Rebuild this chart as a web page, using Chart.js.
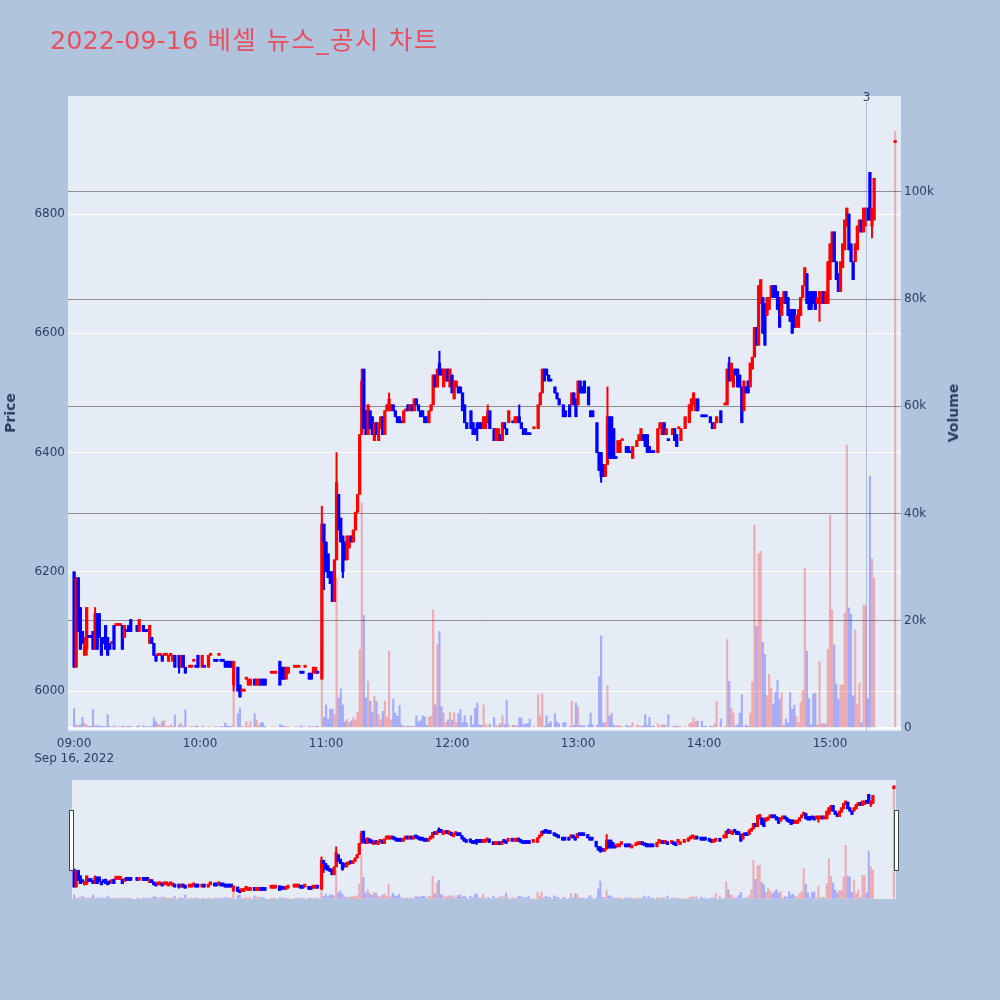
<!DOCTYPE html>
<html>
<head>
<meta charset="utf-8">
<script src="https://cdn.jsdelivr.net/npm/chart.js@4.4.0/dist/chart.umd.min.js"></script>
<style>
html, body { margin: 0; padding: 0; background: #b0c4de; }
#wrap { position: relative; width: 1000px; height: 1000px; overflow: hidden; font-family: "DejaVu Sans", Verdana, sans-serif; }
#title { position: absolute; left: 50px; top: 25px; font-size: 25.5px; line-height: 30px; color: #e8505f; white-space: nowrap;
         font-family: "DejaVu Sans", "Noto Sans CJK KR", sans-serif; }
#title span { letter-spacing: 1.3px; }
.ytitle { position: absolute; font-size: 14px; font-weight: bold; color: #2a3f5f; white-space: nowrap;
          transform: translate(-50%, -50%) rotate(-90deg); }
#main { position: absolute; left: 0; top: 0; }
#slider { position: absolute; left: 60px; top: 775px; }
</style>
</head>
<body>
<div id="wrap">
  <canvas id="main" width="1000" height="770"></canvas>
  <canvas id="slider" width="850" height="130"></canvas>
  <div id="title">2022-09-16<span> 베셀 뉴스_공시 차트</span></div>
  <div class="ytitle" style="left:10px; top:413px;">Price</div>
  <div class="ytitle" style="left:953px; top:413px;">Volume</div>
</div>
<script>
// one entry per minute after 09:00, null = no trade in that minute
const opens = [
  6200,6040,6190,6140,6100,6060,6070,6090,6090,6100,
  6070,6130,6130,6090,6090,6110,6090,6080,6080,6110,
  6110,6110,6110,6110,6090,6100,6110,6120,null,null,
  6110,6100,null,6110,6100,6100,6080,6090,6080,6060,
  6060,6060,6060,6060,6060,6050,6060,6050,6060,null,
  6060,6040,6060,6040,null,6040,6040,6050,6040,6060,
  null,6040,6040,null,6040,6060,null,6050,6050,6060,
  6050,6050,6050,6050,6050,6050,6010,null,6040,6010,
  6000,6000,6020,6010,6010,null,6020,6010,6010,6020,
  6020,6020,null,null,6030,6030,6030,null,6050,6040,
  6040,6020,6030,null,null,6040,6040,6040,6030,6030,
  6040,null,6030,6030,6030,6030,6030,null,6020,6280,
  6250,6230,6200,6200,6150,6220,6330,6290,6260,6250,
  6220,6240,6260,6250,6270,6300,6330,6430,6540,6470,
  6430,6470,6460,6420,6450,6420,6440,6460,6430,6470,
  6470,6470,6480,6470,6460,6460,6450,6450,6470,6480,
  6470,6480,6470,6490,6480,6470,6470,6460,6460,6450,
  6470,6480,6530,6510,6550,6540,6510,6520,6540,6510,
  6530,6490,6510,6510,6510,6500,6480,6450,null,6470,
  6450,6440,6450,6450,6450,6440,6440,6450,6470,null,
  6440,6420,6420,6430,6420,6450,6440,6450,null,6450,
  6450,6450,6460,6450,6440,6440,6430,6430,null,6440,
  null,6440,6480,6500,6540,6540,6530,6520,null,6510,
  6500,6490,null,6480,6470,null,6480,6480,6500,6490,
  6480,6520,6510,6520,null,6510,6470,6470,null,6450,
  6400,6400,6380,6360,6380,6460,6460,6440,6390,6400,
  6400,6420,null,6410,6410,6400,6390,null,6410,6420,
  6420,6430,6430,6430,6410,6400,6400,null,6400,6440,
  6430,6450,6430,6420,null,6430,6440,6430,6440,6420,
  null,6440,null,6450,6470,6480,6470,6490,null,6460,
  6460,6460,null,6460,6450,6440,6450,null,6470,null,
  6480,6480,6550,6520,6510,6540,6540,6530,6510,6470,
  6510,6520,6510,6540,6560,6610,6580,6650,6660,6650,
  6630,6640,6660,6680,6680,6670,6660,6630,6650,6670,
  6660,6640,6640,6640,6610,6610,6630,6660,6680,6700,
  6670,6670,6670,6670,6650,6650,6650,6670,6650,6650,
  6690,6720,6770,6720,6700,6670,6710,6740,6780,6800,
  6750,6720,6720,6740,6770,6790,6770,6780,6810,6870,
  6780,6790,null,null,null,null,null,null,null,null,
  null,6920
];
const highs = [
  6200,6190,6190,6140,6100,6090,6140,6090,6090,6100,
  6140,6130,6130,6090,6090,6110,6090,6080,6080,6110,
  6110,6110,6110,6110,6110,6100,6110,6120,null,null,
  6110,6120,null,6110,6100,6100,6110,6090,6080,6060,
  6060,6060,6060,6060,6060,6060,6060,6060,6060,null,
  6060,6060,6060,6040,null,6040,6040,6050,6040,6060,
  null,6060,6040,null,6060,6060,null,6050,6050,6060,
  6050,6050,6050,6050,6050,6050,6050,null,6040,6010,
  6000,6000,6020,6020,6020,null,6020,6020,6020,6020,
  6020,6020,null,null,6030,6030,6030,null,6050,6040,
  6040,6040,6040,null,null,6040,6040,6040,6030,6030,
  6040,null,6030,6030,6040,6040,6030,null,6310,6280,
  6250,6230,6200,6200,6220,6400,6330,6290,6260,6250,
  6260,6260,6260,6270,6300,6330,6430,6540,6540,6470,
  6480,6470,6460,6450,6450,6450,6460,6460,6470,6480,
  6500,6480,6480,6470,6460,6460,6450,6470,6470,6480,
  6480,6480,6490,6490,6480,6470,6470,6460,6460,6470,
  6480,6530,6530,6540,6570,6540,6540,6540,6540,6540,
  6530,6520,6520,6510,6510,6500,6480,6450,null,6470,
  6450,6440,6450,6450,6450,6460,6460,6480,6470,null,
  6440,6440,6440,6430,6450,6450,6440,6470,null,6450,
  6460,6460,6480,6450,6440,6440,6430,6430,null,6440,
  null,6480,6500,6540,6540,6540,6530,6520,null,6510,
  6500,6490,null,6480,6470,null,6480,6500,6500,6490,
  6520,6520,6510,6520,null,6510,6470,6470,null,6450,
  6400,6400,6380,6380,6510,6460,6460,6440,6390,6420,
  6420,6420,null,6410,6410,6400,6410,null,6420,6430,
  6440,6430,6430,6430,6410,6400,6400,null,6440,6450,
  6450,6450,6440,6420,null,6440,6440,6430,6440,6440,
  null,6460,null,6480,6490,6500,6490,6490,null,6460,
  6460,6460,null,6460,6450,6450,6460,null,6470,null,
  6480,6540,6560,6550,6540,6540,6540,6530,6510,6520,
  6510,6520,6550,6560,6610,6610,6680,6690,6660,6650,
  6660,6660,6680,6680,6680,6670,6660,6660,6670,6670,
  6660,6640,6640,6640,6630,6640,6660,6680,6710,6700,
  6670,6670,6670,6670,6660,6670,6670,6670,6670,6720,
  6750,6770,6770,6720,6700,6720,6750,6790,6810,6800,
  6750,6720,6750,6780,6790,6790,6810,6810,6810,6870,
  6810,6860,null,null,null,null,null,null,null,null,
  null,6920
];
const lows = [
  6040,6040,6100,6070,6080,6060,6060,6090,6090,6070,
  6070,6070,6090,6060,6080,6070,6060,6070,6080,6070,
  6110,6110,6110,6070,6090,6100,6100,6100,null,null,
  6100,6100,null,6100,6100,6100,6080,6080,6060,6050,
  6060,6060,6050,6060,6060,6050,6060,6050,6040,null,
  6030,6040,6040,6030,null,6040,6040,6050,6040,6040,
  null,6040,6040,null,6040,6060,null,6050,6050,6060,
  6050,6050,6040,6040,6040,6040,6000,null,6000,5990,
  6000,6000,6020,6010,6010,null,6010,6010,6010,6010,
  6010,6010,null,null,6030,6030,6030,null,6010,6020,
  6020,6020,6030,null,null,6040,6040,6040,6030,6030,
  6040,null,6020,6020,6030,6030,6030,null,6020,6170,
  6200,6190,6180,6150,6150,6220,6270,6250,6190,6220,
  6220,6240,6250,6250,6270,6300,6330,6430,6440,6430,
  6430,6440,6430,6420,6430,6420,6440,6430,6430,6470,
  6470,6470,6470,6460,6450,6450,6450,6450,6470,6470,
  6470,6470,6470,6480,6470,6460,6460,6450,6450,6450,
  6470,6480,6510,6510,6530,6530,6510,6520,6520,6510,
  6500,6490,6510,6500,6500,6470,6450,6440,null,6440,
  6430,6430,6420,6440,6440,6440,6440,6450,6440,null,
  6420,6420,6420,6420,6420,6440,6430,6450,null,6450,
  6450,6450,6450,6440,6430,6430,6430,6430,null,6440,
  null,6440,6480,6500,6520,6530,6520,6520,null,6500,
  6490,6480,null,6460,6460,null,6460,6480,6480,6460,
  6480,6500,6500,6500,null,6480,6460,6460,null,6400,
  6370,6350,6360,6360,6380,6390,6390,6390,6390,6400,
  6400,6420,null,6400,6400,6400,6390,null,6410,6420,
  6420,6420,6410,6400,6400,6400,6400,null,6400,6440,
  6430,6430,6430,6420,null,6430,6420,6410,6440,6420,
  null,6440,null,6450,6470,6480,6470,6470,null,6460,
  6460,6460,null,6450,6440,6440,6450,null,6450,null,
  6480,6480,6520,6520,6510,6530,6510,6510,6450,6470,
  6500,6500,6510,6540,6560,6580,6580,6650,6600,6580,
  6630,6640,6660,6660,6660,6640,6610,6630,6650,6650,
  6630,6620,6600,6610,6610,6610,6630,6660,6680,6650,
  6640,6640,6650,6640,6650,6620,6650,6650,6650,6650,
  6690,6720,6720,6690,6670,6670,6710,6740,6780,6740,
  6720,6690,6720,6740,6770,6770,6770,6780,6790,6790,
  6760,6790,null,null,null,null,null,null,null,null,
  null,6920
];
const closes = [
  6040,6190,6100,6070,6080,6080,6140,6090,6090,6070,
  6130,6070,6090,6060,6080,6070,6060,6070,6080,6070,
  6110,6110,6110,6070,6110,6100,6100,6100,null,null,
  6100,6120,null,6100,6100,6100,6110,6080,6060,6050,
  6060,6060,6050,6060,6060,6060,6060,6060,6040,null,
  6040,6060,6040,6030,null,6040,6040,6050,6040,6040,
  null,6060,6040,null,6060,6060,null,6050,6050,6060,
  6050,6050,6040,6040,6040,6040,6050,null,6000,5990,
  6000,6000,6020,6020,6020,null,6010,6020,6020,6010,
  6010,6010,null,null,6030,6030,6030,null,6010,6020,
  6020,6040,6040,null,null,6040,6040,6040,6030,6030,
  6040,null,6020,6020,6040,6040,6030,null,6280,6250,
  6200,6190,6180,6150,6220,6350,6270,6250,6200,6220,
  6260,6260,6250,6270,6300,6330,6430,6520,6440,6430,
  6480,6440,6430,6450,6430,6450,6460,6430,6470,6480,
  6490,6480,6470,6460,6450,6450,6450,6470,6470,6470,
  6480,6470,6490,6480,6470,6460,6460,6450,6450,6470,
  6480,6530,6510,6540,6530,6530,6540,6540,6520,6540,
  6500,6520,6520,6500,6500,6470,6450,6440,null,6440,
  6430,6430,6440,6440,6440,6460,6460,6470,6440,null,
  6420,6440,6440,6420,6450,6440,6430,6470,null,6450,
  6460,6460,6450,6440,6430,6430,6430,6430,null,6440,
  null,6480,6500,6540,6520,6530,6520,6520,null,6500,
  6490,6480,null,6460,6460,null,6460,6500,6480,6460,
  6520,6500,6500,6500,null,6480,6460,6460,null,6400,
  6370,6360,6360,6380,6460,6390,6390,6390,6390,6420,
  6420,6420,null,6400,6400,6400,6410,null,6420,6430,
  6440,6420,6410,6400,6400,6400,6400,null,6440,6450,
  6450,6430,6440,6420,null,6440,6420,6410,6440,6440,
  null,6460,null,6480,6490,6500,6490,6470,null,6460,
  6460,6460,null,6450,6440,6450,6460,null,6450,null,
  6480,6540,6520,6550,6540,6530,6510,6510,6450,6520,
  6500,6500,6550,6560,6610,6580,6680,6690,6600,6580,
  6660,6660,6680,6660,6660,6640,6610,6660,6670,6650,
  6630,6620,6600,6610,6630,6640,6660,6680,6710,6650,
  6640,6640,6650,6640,6660,6670,6670,6650,6670,6720,
  6750,6770,6720,6690,6670,6720,6750,6790,6810,6740,
  6720,6690,6750,6780,6790,6770,6810,6810,6790,6790,
  6810,6860,null,null,null,null,null,null,null,null,
  null,6920
];
const volumes = [
  3600,600,400,600,2000,900,600,300,300,3400,
  500,400,400,300,300,300,2500,300,200,400,
  200,200,200,400,300,200,300,300,null,null,
  300,500,null,400,200,200,300,300,1900,1200,
  700,600,1200,1400,300,300,600,300,2400,null,
  600,900,300,3400,null,200,300,200,400,300,
  null,400,200,null,300,200,null,200,200,200,
  300,200,900,400,300,300,8000,null,2700,3700,
  300,200,1200,400,1200,null,2700,1500,500,1000,
  1000,300,null,null,200,200,200,null,600,500,
  300,300,300,null,null,200,200,200,400,200,
  200,null,400,200,300,300,400,null,15800,2000,
  4300,1600,3500,3500,2500,28000,5600,7300,4300,1200,
  1600,1000,1300,1900,1500,2900,14600,42000,21000,5600,
  8700,5000,3000,5900,5000,2500,1500,3100,5000,2000,
  14300,1500,5400,2800,2200,4200,600,400,300,400,
  300,300,300,2300,1200,1400,2300,2100,500,2000,
  2200,22000,4300,15500,18000,4000,2800,1000,1500,2900,
  1500,2900,1000,2700,3500,1000,2300,1000,null,2300,
  600,3700,4700,600,500,4300,700,400,700,null,
  2000,400,500,800,2300,600,5200,600,null,500,
  500,400,1900,1900,600,800,800,1700,null,300,
  null,6200,2300,6400,300,2300,800,1200,null,2700,
  1200,800,null,1000,1000,null,300,5000,500,4700,
  4000,500,400,400,null,600,2800,600,null,500,
  9600,17200,1000,1000,7900,2200,2700,600,300,500,
  400,300,null,500,400,300,1000,null,600,400,
  300,400,2500,500,2000,300,400,null,800,400,
  600,600,400,2500,null,300,400,300,300,300,
  null,300,null,800,1000,1900,1200,1300,null,1300,
  300,300,null,400,300,800,4900,null,1700,null,
  300,16500,8700,3700,2800,400,600,2800,6200,300,
  600,300,2800,8600,37800,19000,32500,33000,16000,13700,
  6000,10000,7500,4500,6700,8900,5400,6600,500,1700,
  1000,6600,3500,4300,2200,1000,4800,7000,29800,14300,
  5500,600,6300,6500,600,12400,800,800,800,14700,
  39700,22000,15500,8200,5300,8000,8000,21400,52800,22400,
  21200,6000,18300,4500,8400,1000,23000,22800,5500,47000,
  31600,28000,null,null,null,null,null,null,null,null,
  null,111300
];

const priceTicks = [6000, 6200, 6400, 6600, 6800];
const volumeTicks = [0, 20000, 40000, 60000, 80000, 100000];
const hourTicks = [0, 60, 120, 180, 240, 300, 360];   // minutes after 09:00
const dateLabel = "Sep 16, 2022";
const newsMinute = 377;   // 15:17
const newsLabel = "3";

const UP = "#ff0000", DOWN = "#0000ff";
const UP_VOL = "rgba(255,0,0,0.27)", DOWN_VOL = "rgba(0,0,255,0.27)";
const TEXT = "#2a3f5f";

Chart.defaults.font.family = '"DejaVu Sans", Verdana, sans-serif';
Chart.defaults.font.size = 12;
Chart.defaults.color = TEXT;

// build candle pieces; a doji keeps the colour from the previous close, like plotly does
let bodies = [], wicks = [], vols = [], bodyColors = [], volColors = [];
let rising = true, prevClose = null;
opens.forEach((o, i) => {
    if (o == null) return;
    const c = closes[i];
    if (c !== o) rising = c > o;
    else if (prevClose !== null && c !== prevClose) rising = c > prevClose;
    prevClose = c;
    bodies.push({ x: i, y: [o, c] });
    wicks.push({ x: i, y: [lows[i], highs[i]] });
    vols.push({ x: i, y: volumes[i] });
    bodyColors.push(rising ? UP : DOWN);
    volColors.push(rising ? UP_VOL : DOWN_VOL);
});

function hhmm(m) {
    let h = 9 + Math.floor(m / 60), mm = m % 60;
    return String(h).padStart(2, "0") + ":" + String(mm).padStart(2, "0");
}

function makeDatasets(bodyW, wickW, volW, minLen) {
    return [
        { label: "body", data: bodies.map(p => ({ ...p })), backgroundColor: bodyColors, barThickness: bodyW,
          minBarLength: minLen, grouped: false, yAxisID: "y", order: 1 },
        { label: "wick", data: wicks.map(p => ({ ...p })), backgroundColor: bodyColors, barThickness: wickW,
          grouped: false, yAxisID: "y", order: 2 },
        { label: "volume", data: vols.map(p => ({ ...p })), backgroundColor: volColors, barThickness: volW,
          grouped: false, yAxisID: "yv", order: 3 }
    ];
}

const plotBg = {
    id: "plotBg",
    beforeDraw(chart) {
        const a = chart.chartArea, ctx = chart.ctx;
        ctx.save();
        ctx.fillStyle = "#e5ecf6";
        ctx.fillRect(a.left, a.top, a.right - a.left, a.bottom - a.top);
        ctx.restore();
    }
};

const newsLine = {
    id: "newsLine",
    afterDatasetsDraw(chart) {
        const a = chart.chartArea, ctx = chart.ctx;
        const x = Math.round(chart.scales.x.getPixelForValue(newsMinute)) + 0.5;
        ctx.save();
        ctx.strokeStyle = "rgba(110,140,210,0.5)";
        ctx.lineWidth = 1;
        ctx.beginPath();
        ctx.moveTo(x, a.top + 6);
        ctx.lineTo(x, a.bottom);
        ctx.stroke();
        ctx.fillStyle = TEXT;
        ctx.font = '12px "DejaVu Sans", Verdana, sans-serif';
        ctx.textAlign = "center";
        ctx.textBaseline = "alphabetic";
        ctx.fillText(newsLabel, x, a.top + 5);
        ctx.restore();
    }
};

const handles = {
    id: "handles",
    afterDraw(chart) {
        const a = chart.chartArea, ctx = chart.ctx;
        ctx.save();
        ctx.fillStyle = "#ffffff";
        ctx.strokeStyle = "#444444";
        ctx.lineWidth = 1;
        [a.left - 3, a.right - 2].forEach(x => {
            ctx.fillRect(x, a.top + 30, 4, 60);
            ctx.strokeRect(x + 0.5, a.top + 30.5, 4, 60);
        });
        ctx.restore();
    }
};

new Chart(document.getElementById("main").getContext("2d"), {
    type: "bar",
    data: { datasets: makeDatasets(2.6, 1.4, 1.5, 2) },
    options: {
        responsive: false,
        animation: false,
        events: [],
        layout: { padding: { top: 96, right: 35, left: 0, bottom: 0 } },
        plugins: { legend: { display: false }, tooltip: { enabled: false } },
        scales: {
            x: {
                type: "linear", min: -2.9, max: 393.8, offset: false,
                grid: { display: false }, border: { display: false },
                afterBuildTicks: s => { s.ticks = hourTicks.map(v => ({ value: v })); },
                afterFit: s => { s.height = 39; },
                ticks: {
                    autoSkip: false, maxRotation: 0, padding: -2,
                    callback: v => v === 0 ? [hhmm(v), dateLabel] : hhmm(v)
                }
            },
            y: {
                position: "left", min: 5933, max: 6998,
                grid: { color: "#ffffff", drawTicks: false }, border: { display: false },
                afterBuildTicks: s => { s.ticks = priceTicks.map(v => ({ value: v })); },
                afterFit: s => { s.width = 68; },
                ticks: { padding: 3, callback: v => String(v) }
            },
            yv: {
                position: "right", min: -560, max: 117900,
                grid: {
                    color: c => (c.tick && c.tick.value === 0) ? "#ffffff" : "#8f8f8f",
                    lineWidth: c => (c.tick && c.tick.value === 0) ? 2 : 1,
                    drawTicks: false
                },
                border: { display: false },
                afterBuildTicks: s => { s.ticks = volumeTicks.map(v => ({ value: v })); },
                afterFit: s => { s.width = 64; },
                ticks: { padding: 3, callback: v => v === 0 ? "0" : (v / 1000) + "k" }
            }
        }
    },
    plugins: [plotBg, newsLine]
});

// range slider underneath: same traces, squeezed
new Chart(document.getElementById("slider").getContext("2d"), {
    type: "bar",
    data: { datasets: makeDatasets(2.6, 1.4, 1.4, 3) },
    options: {
        responsive: false,
        animation: false,
        events: [],
        layout: { padding: { top: 5, right: 14, left: 12, bottom: 6 } },
        plugins: { legend: { display: false }, tooltip: { enabled: false } },
        scales: {
            x: { type: "linear", min: -1, max: 392, offset: false, display: false },
            y: { min: 5933, max: 6998, display: false },
            yv: { position: "right", min: -560, max: 117900, display: false }
        }
    },
    plugins: [plotBg, handles]
});
</script>
</body>
</html>
